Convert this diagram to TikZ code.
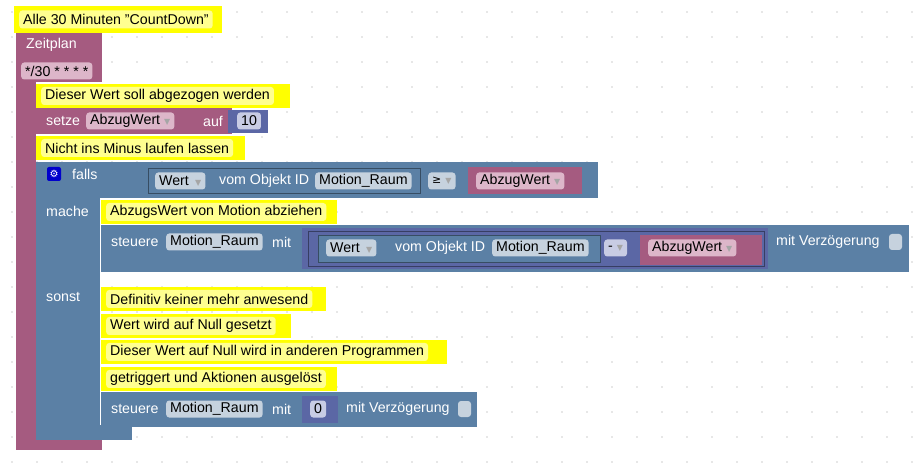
\documentclass[tikz,border=0pt]{standalone}
\usepackage{fontspec}
\setmainfont{Liberation Sans}
\newfontfamily\symf{DejaVu Sans}
\definecolor{pur}{HTML}{A55B80}
\definecolor{purf}{HTML}{DDB6C9}
\definecolor{blu}{HTML}{5B80A5}
\definecolor{bluf}{HTML}{C6D2DE}
\definecolor{mth}{HTML}{5B67A5}
\definecolor{mthf}{HTML}{C8CCE4}
\definecolor{cy}{HTML}{FFFF00}
\definecolor{cyin}{HTML}{FFFF90}
\definecolor{dotc}{HTML}{D0D0D0}
\newcommand{\dd}{~{\symf\fontsize{8}{8}\selectfont\textcolor{black!35}{▼}}}
\tikzset{
 every node/.style={font=\fontsize{14.2}{16}\selectfont, inner sep=0pt},
 wt/.style={text=white, anchor=west},
 fld/.style={anchor=west, fill=#1, rounded corners=3pt, inner xsep=4pt, minimum height=17pt, text=black},
 cin/.style={anchor=west, fill=cyin, rounded corners=3pt, inner xsep=4pt, minimum height=18pt, text=black},
}
\newcommand{\cmt}[6]{\fill[cy] (#2,#3) rectangle (#4,#5); \node[cin] (#1) at ({#2+5},{(#3+#5)/2}) {#6};}
\begin{document}
\begin{tikzpicture}[x=1pt,y=-1pt]
\useasboundingbox (0,0) rectangle (914,465);
\fill[white] (0,0) rectangle (914,465);
\foreach \i in {0,...,36} \foreach \j in {0,...,18} \fill[dotc] ({\i*25+12},{\j*25+12}) circle (0.8);
\fill[pur] (16,33) rectangle (102,82);
\fill[pur] (16,82) rectangle (36,450);
\fill[pur] (16,432) rectangle (102,450);
\node[wt] (zp) at (26,45) {Zeitplan};
\node[fld=purf] (cron) at (21,71) {*/30 * * * *};
\cmt{c1}{14}{6}{222}{33}{Alle 30 Minuten "CountDown"}
\cmt{c2}{36}{84}{290}{108}{Dieser Wert soll abgezogen werden}
\fill[pur] (36,108) rectangle (232,134);
\node[wt] (setze) at (46,121) {setze};
\node[fld=purf] (abz1) at (86,121) {AbzugWert\dd};
\node[wt] (auf) at (203,121) {auf};
\fill[mth] (228,110) rectangle (268,133);
\node[fld=mthf] (ten) at (237,121) {10};
\cmt{c3}{36}{136}{245}{160}{Nicht ins Minus laufen lassen}
\fill[blu] (36,162) rectangle (398,198);
\fill[blu] (36,198) rectangle (100,440);
\fill[blu] (36,425) rectangle (132,440);
\fill[blue!80!black, rounded corners=2pt] (47,167) rectangle (61,181);
\node[text=white] (gear) at (54,174) {\symf\fontsize{10}{10}\selectfont ⚙};
\node[wt] (falls) at (72,174) {falls};
\fill[blu] (132,162) rectangle (598,198);
\draw[blu!60!black, line width=0.8pt] (148,168) rectangle (420,193);
\node[fld=bluf] (w1) at (155,181) {Wert\,\dd};
\node[wt] (vo1) at (219,181) {vom Objekt ID};
\node[fld=bluf] (mr1) at (315,181) {Motion\_Raum};
\node[fld=bluf] (ge) at (428,181) {{\symf\fontsize{11}{11}\selectfont ≥}\dd};
\fill[pur] (468,167) rectangle (582,194);
\node[fld=purf] (abz2) at (476,181) {AbzugWert\dd};
\node[wt] (mache) at (46,211) {mache};
\cmt{c4}{101}{200}{337}{224}{AbzugsWert von Motion abziehen}
\fill[blu] (101,225) rectangle (909,272);
\node[wt] (st1) at (111,242) {steuere};
\node[fld=bluf] (mr2) at (166,242) {Motion\_Raum};
\node[wt] (mit1) at (272,242) {mit};
\fill[mth] (302,228) rectangle (768,269);
\draw[mth!60!black, line width=0.8pt] (308,231) rectangle (764,266);
\draw[blu!60!black, line width=0.8pt, fill=blu] (318,235) rectangle (600,262);
\node[fld=bluf] (w2) at (326,248) {Wert\,\dd};
\node[wt] (vo2) at (395,248) {vom Objekt ID};
\node[fld=bluf] (mr3) at (492,248) {Motion\_Raum};
\node[fld=mthf] (minus) at (604,248) {-\dd};
\fill[pur] (640,235) rectangle (762,265);
\node[fld=purf] (abz3) at (648,248) {AbzugWert\dd};
\node[wt] (mv1) at (776,242) {mit Verzögerung};
\fill[bluf, rounded corners=3pt] (889,234) rectangle (902,250);
\node[wt] (sonst) at (46,297) {sonst};
\cmt{c5}{101}{287}{326}{311}{Definitiv keiner mehr anwesend}
\cmt{c6}{101}{314}{291}{338}{Wert wird auf Null gesetzt}
\cmt{c7}{101}{340}{447}{364}{Dieser Wert auf Null wird in anderen Programmen}
\cmt{c8}{101}{367}{337}{391}{getriggert und Aktionen ausgelöst}
\fill[blu] (101,392) rectangle (477,427);
\node[wt] (st2) at (111,409) {steuere};
\node[fld=bluf] (mr4) at (166,409) {Motion\_Raum};
\node[wt] (mit2) at (272,409) {mit};
\fill[mth] (302,396) rectangle (338,423);
\node[fld=mthf] (zero) at (310,409) {0};
\node[wt] (mv2) at (346,409) {mit Verzögerung};
\fill[bluf, rounded corners=3pt] (458,401) rectangle (471,417);
\end{tikzpicture}
\end{document}
